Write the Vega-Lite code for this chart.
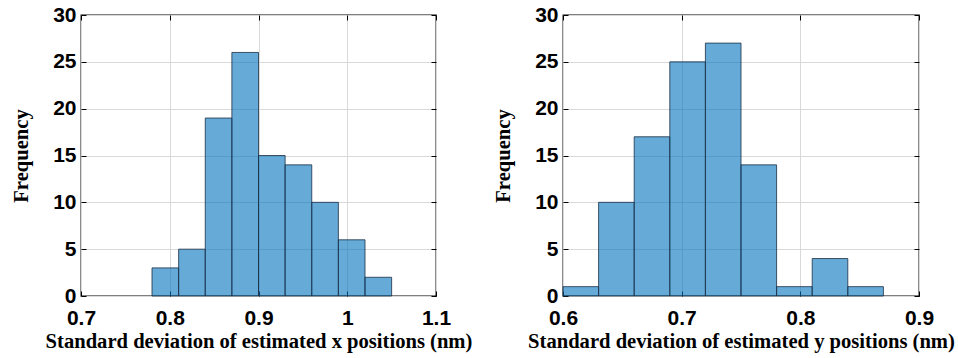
{
  "$schema": "https://vega.github.io/schema/vega-lite/v6.json",
  "background": "white",
  "padding": {"left": 10, "top": 3, "right": 4, "bottom": 4},
  "datasets": {
    "xdev": [
      {"start": 0.78, "end": 0.81, "count": 3},
      {"start": 0.81, "end": 0.84, "count": 5},
      {"start": 0.84, "end": 0.87, "count": 19},
      {"start": 0.87, "end": 0.90, "count": 26},
      {"start": 0.90, "end": 0.93, "count": 15},
      {"start": 0.93, "end": 0.96, "count": 14},
      {"start": 0.96, "end": 0.99, "count": 10},
      {"start": 0.99, "end": 1.02, "count": 6},
      {"start": 1.02, "end": 1.05, "count": 2}
    ],
    "ydev": [
      {"start": 0.60, "end": 0.63, "count": 1},
      {"start": 0.63, "end": 0.66, "count": 10},
      {"start": 0.66, "end": 0.69, "count": 17},
      {"start": 0.69, "end": 0.72, "count": 25},
      {"start": 0.72, "end": 0.75, "count": 27},
      {"start": 0.75, "end": 0.78, "count": 14},
      {"start": 0.78, "end": 0.81, "count": 1},
      {"start": 0.81, "end": 0.84, "count": 4},
      {"start": 0.84, "end": 0.87, "count": 1}
    ]
  },
  "config": {
    "view": {"stroke": "#000000", "strokeWidth": 1.3},
    "concat": {"spacing": 19},
    "axis": {
      "domain": false,
      "grid": true,
      "gridColor": "#d9d9d9",
      "gridWidth": 1,
      "ticks": true,
      "tickSize": -5,
      "tickColor": "#000000",
      "tickWidth": 1,
      "labelFont": "Liberation Sans",
      "labelFontWeight": "bold",
      "labelFontSize": 21,
      "labelColor": "#000000",
      "titleFont": "Liberation Serif",
      "titleFontWeight": "bold",
      "titleFontSize": 20.6,
      "titleColor": "#000000"
    }
  },
  "hconcat": [
    {
      "width": 355,
      "height": 281,
      "data": {"name": "xdev"},
      "resolve": {"scale": {"x": "independent", "y": "independent"}, "axis": {"x": "independent", "y": "independent"}},
      "layer": [
        {
          "mark": {"type": "rect", "fill": "#0072BD", "fillOpacity": 0.6, "stroke": "#1a2f45", "strokeWidth": 0.8},
          "encoding": {
            "x": {"field": "start", "type": "quantitative", "scale": {"domain": [0.7, 1.1], "nice": false, "zero": false},
                  "axis": {"values": [0.7, 0.8, 0.9, 1.0, 1.1], "format": ".1~f", "labelPadding": 16, "title": "Standard deviation of estimated x positions (nm)", "titlePadding": 3, "labelFlush": false}},
            "x2": {"field": "end"},
            "y": {"field": "count", "type": "quantitative", "scale": {"domain": [0, 30], "nice": false},
                  "axis": {"values": [0, 5, 10, 15, 20, 25, 30], "labelPadding": 10, "title": "Frequency", "titlePadding": 21, "labelFlush": false}},
            "y2": {"datum": 0}
          }
        },
        {
          "mark": {"type": "rect", "opacity": 0},
          "encoding": {
            "x": {"field": "start", "type": "quantitative", "scale": {"domain": [0.7, 1.1], "nice": false, "zero": false},
                  "axis": {"orient": "top", "values": [0.7, 0.8, 0.9, 1.0, 1.1], "labels": false, "grid": false, "title": null}},
            "x2": {"field": "end"},
            "y": {"field": "count", "type": "quantitative", "scale": {"domain": [0, 30], "nice": false},
                  "axis": {"orient": "right", "values": [0, 5, 10, 15, 20, 25, 30], "labels": false, "grid": false, "title": null}},
            "y2": {"datum": 0}
          }
        }
      ]
    },
    {
      "width": 356,
      "height": 281,
      "data": {"name": "ydev"},
      "resolve": {"scale": {"x": "independent", "y": "independent"}, "axis": {"x": "independent", "y": "independent"}},
      "layer": [
        {
          "mark": {"type": "rect", "fill": "#0072BD", "fillOpacity": 0.6, "stroke": "#1a2f45", "strokeWidth": 0.8},
          "encoding": {
            "x": {"field": "start", "type": "quantitative", "scale": {"domain": [0.6, 0.9], "nice": false, "zero": false},
                  "axis": {"values": [0.6, 0.7, 0.8, 0.9], "format": ".1~f", "labelPadding": 16, "title": "Standard deviation of estimated y positions (nm)", "titlePadding": 3, "labelFlush": false}},
            "x2": {"field": "end"},
            "y": {"field": "count", "type": "quantitative", "scale": {"domain": [0, 30], "nice": false},
                  "axis": {"values": [0, 5, 10, 15, 20, 25, 30], "labelPadding": 10, "title": "Frequency", "titlePadding": 21, "labelFlush": false}},
            "y2": {"datum": 0}
          }
        },
        {
          "mark": {"type": "rect", "opacity": 0},
          "encoding": {
            "x": {"field": "start", "type": "quantitative", "scale": {"domain": [0.6, 0.9], "nice": false, "zero": false},
                  "axis": {"orient": "top", "values": [0.6, 0.7, 0.8, 0.9], "labels": false, "grid": false, "title": null}},
            "x2": {"field": "end"},
            "y": {"field": "count", "type": "quantitative", "scale": {"domain": [0, 30], "nice": false},
                  "axis": {"orient": "right", "values": [0, 5, 10, 15, 20, 25, 30], "labels": false, "grid": false, "title": null}},
            "y2": {"datum": 0}
          }
        }
      ]
    }
  ]
}
